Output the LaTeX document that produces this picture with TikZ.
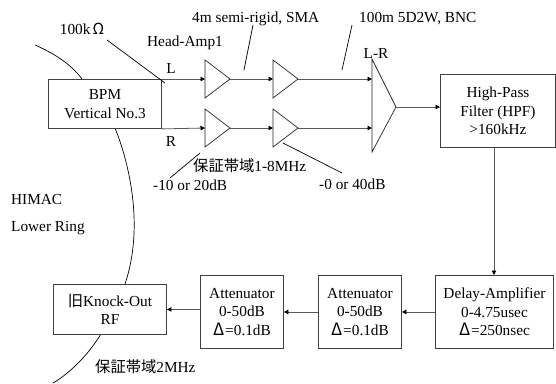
\documentclass[tikz,border=0pt]{standalone}
\usepackage{fontspec}
\setmainfont{Liberation Serif}
\newfontfamily\cjkf{Noto Sans CJK JP}
\usetikzlibrary{arrows.meta}
\tikzset{
  x=1pt,y=-1pt,
  box/.style={draw=black!75,line width=0.9pt,inner sep=0pt,align=center,font=\fontsize{15.3}{18.5}\selectfont},
  lab/.style={inner sep=0pt,anchor=west,font=\fontsize{15.3}{18.5}\selectfont},
  clab/.style={inner sep=0pt,anchor=center,align=center,font=\fontsize{15.3}{18.5}\selectfont},
  amp/.style={draw=black!85,line width=0.7pt,line join=miter},
  sig/.style={draw=black!65,line width=0.8pt,-{Triangle[length=4.5pt,width=4.5pt,color=black]}},
  lead/.style={draw=black,line width=0.7pt},
  ring/.style={draw=black,line width=0.7pt},
}
\newcommand{\boxnode}[7]{\node[box,minimum width=#4 pt,minimum height=#5 pt,anchor=north west] (#1) at (#2,#3) {#6};}
\newcommand{\dlt}{{\cjkf\fontsize{17}{18.5}\selectfont Δ}\kern1pt}
\begin{document}
\begin{tikzpicture}
\useasboundingbox (0,0) rectangle (556,383);
% ring
\coordinate (r1) at (35,45);
\coordinate (r2) at (82,79);
\coordinate (r3) at (115,128);
\coordinate (r4) at (125,284);
\coordinate (r5) at (101,334);
\coordinate (r6) at (53,383);
\draw[ring] (r1) .. controls (53,53) and (70,63) .. (r2);
\draw[ring] (r3) .. controls (128,160) and (145,225) .. (r4);
\draw[ring] (r5) .. controls (90,352) and (72,372) .. (r6);
% boxes
\boxnode{bpm}{48}{79}{113}{49}{BPM\\Vertical No.3}{}
\boxnode{hpf}{440}{74}{115}{73}{High-Pass\\Filter (HPF)\\>160kHz}{}
\boxnode{delay}{435}{275}{118}{73}{Delay-Amplifier\\0-4.75usec\\\dlt=250nsec}{}
\boxnode{att2}{318}{275}{83}{73}{Attenuator\\0-50dB\\\dlt=0.1dB}{}
\boxnode{att1}{200}{275}{83}{73}{Attenuator\\0-50dB\\\dlt=0.1dB}{}
\boxnode{ko}{53}{284}{113}{50}{{\cjkf 旧}Knock-Out\\RF}{}
% amplifiers
\coordinate (a1i) at (205,79); \coordinate (a1o) at (230,79);
\coordinate (a2i) at (273,79); \coordinate (a2o) at (298,79);
\coordinate (b1i) at (205,128); \coordinate (b1o) at (230,128);
\coordinate (b2i) at (273,128); \coordinate (b2o) at (298,128);
\draw[amp] (205,60) -- (a1o) -- (205,98) -- cycle;
\draw[amp] (273,60) -- (a2o) -- (273,98) -- cycle;
\draw[amp] (205,109) -- (b1o) -- (205,147) -- cycle;
\draw[amp] (273,109) -- (b2o) -- (273,147) -- cycle;
\coordinate (dt) at (372,79); \coordinate (db) at (372,128); \coordinate (do) at (396,107);
\draw[amp] (372,59) -- (do) -- (372,152) -- cycle;
% signal
\draw[sig] (bpm.north east) -- (a1i);
\draw[sig] (bpm.south east) -- (b1i);
\draw[sig] (a1o) -- (a2i);
\draw[sig] (b1o) -- (b2i);
\draw[sig] (a2o) -- (dt);
\draw[sig] (b2o) -- (db);
\draw[sig] (do) -- (hpf.west |- do);
\draw[sig] (hpf.south -| 494,0) -- (delay.north -| 494,0);
\draw[sig] (delay.west) -- (att2.east);
\draw[sig] (att2.west) -- (att1.east);
\draw[sig] (att1.west |- ko.east) -- (ko.east);
% leaders
\coordinate (l1a) at (107,40); \coordinate (l1b) at (165,83);
\coordinate (l2a) at (253,25); \coordinate (l2b) at (244,70);
\coordinate (l3a) at (352,25); \coordinate (l3b) at (342,70);
\coordinate (l4a) at (200,153); \coordinate (l4b) at (170,178);
\coordinate (l5a) at (283,143); \coordinate (l5b) at (342,173);
\draw[lead] (l1a) -- (l1b);
\draw[lead] (l2a) -- (l2b);
\draw[lead] (l3a) -- (l3b);
\draw[lead] (l4a) -- (l4b);
\draw[lead] (l5a) -- (l5b);
% labels
\node[clab] (t1) at (82,29) {100k\kern2pt{\cjkf Ω}};
\node[clab] (t2) at (185,43) {Head-Amp1};
\node[clab] (t3) at (171,68) {L};
\node[clab] (t4) at (171,141) {R};
\node[lab] (t5) at (192,19) {4m semi-rigid, SMA};
\node[lab] (t6) at (359,19) {100m 5D2W, BNC};
\node[clab] (t7) at (376,53) {L-R};
\node[lab] (t8) at (193,166) {{\cjkf 保証帯域}1-8MHz};
\node[lab] (t9) at (153,185) {-10 or 20dB};
\node[lab] (t10) at (319,184) {-0 or 40dB};
\node[lab] (t11) at (11,200) {HIMAC};
\node[lab] (t12) at (11,228) {Lower Ring};
\node[lab] (t13) at (95,367) {{\cjkf 保証帯域}2MHz};
\end{tikzpicture}
\end{document}
